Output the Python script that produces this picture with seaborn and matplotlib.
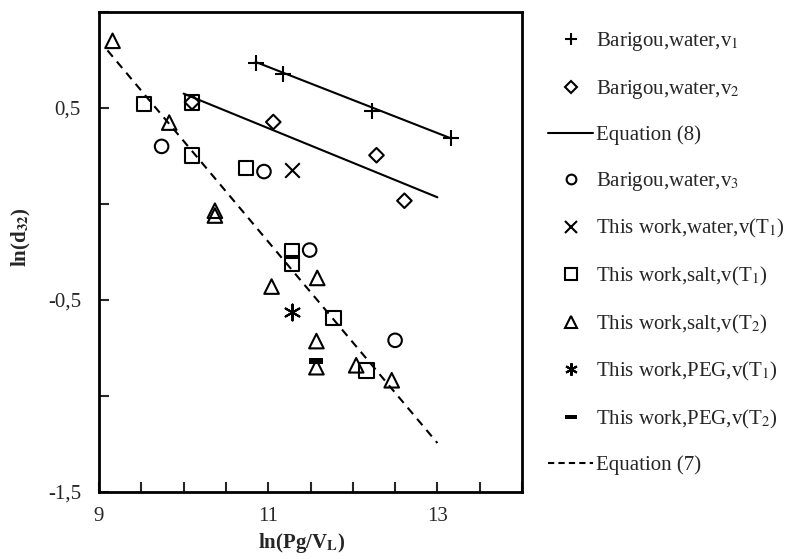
import matplotlib
matplotlib.use("Agg")
import matplotlib.pyplot as plt
import seaborn as sns
import numpy as np
import pandas as pd
from matplotlib.lines import Line2D
from matplotlib.ticker import MultipleLocator, FixedLocator, FixedFormatter

# ---- data ----
bar_v1_x = [10.86, 11.17, 12.23, 13.16]
bar_v1_y = [0.735, 0.675, 0.484, 0.342]
bar_v2_x = [10.10, 11.06, 12.28, 12.61]
bar_v2_y = [0.53, 0.427, 0.254, 0.017]
bar_v3_x = [9.74, 10.95, 11.49, 12.50]
bar_v3_y = [0.30, 0.169, -0.24, -0.71]
water_T1_x = [11.28]
water_T1_y = [0.176]
salt_T1_x = [9.53, 10.10, 10.10, 10.74, 11.28, 11.28, 11.77, 12.16]
salt_T1_y = [0.52, 0.53, 0.254, 0.187, -0.245, -0.31, -0.593, -0.866]
salt_T2_x = [9.16, 9.83, 10.37, 10.37, 11.04, 11.58, 11.57, 11.57, 12.04, 12.46]
salt_T2_y = [0.85, 0.424, -0.035, -0.06, -0.43, -0.385, -0.714, -0.85, -0.84, -0.918]
peg_T1_x = [11.28]
peg_T1_y = [-0.563]
peg_T2_x = [11.57]
peg_T2_y = [-0.82]
eq8a_x = [10.0, 13.0]
eq8a_y = [0.575, 0.035]
eq8b_x = [10.85, 13.16]
eq8b_y = [0.74, 0.342]
eq7_x = [9.1, 13.0]
eq7_y = [0.80, -1.245]

labels = [r"Barigou,water,v$_1$", r"Barigou,water,v$_2$", "Equation (8)",
          r"Barigou,water,v$_3$", r"This work,water,v(T$_1$)",
          r"This work,salt,v(T$_1$)", r"This work,salt,v(T$_2$)",
          r"This work,PEG,v(T$_1$)", r"This work,PEG,v(T$_2$)", "Equation (7)"]
xticks = [9, 11, 13]
yticks = [-1.5, -0.5, 0.5]
yticklabels = ["-1,5", "-0,5", "0,5"]

sns.set_style("ticks")
plt.rcParams["font.family"] = ["Liberation Serif", "DejaVu Serif"]
plt.rcParams["mathtext.fontset"] = "stix"

FS = 15

fig = plt.figure(figsize=(7.95, 5.59), dpi=100)
ax = fig.add_axes([99/795, 1-492/559, (522-99)/795, (492-12)/559])

bar_marker = [(-1, -0.4), (1, -0.4), (1, 0.4), (-1, 0.4), (-1, -0.4)]

lw = 1.5
sns.lineplot(x=eq8a_x, y=eq8a_y, ax=ax, color="black", lw=lw, estimator=None)
sns.lineplot(x=eq8b_x, y=eq8b_y, ax=ax, color="black", lw=lw, estimator=None)
sns.lineplot(x=eq7_x, y=eq7_y, ax=ax, color="black", lw=lw, estimator=None, linestyle=(0, (4, 3)))

def sc(x, y, marker, s, lwm=1.5):
    if marker in ("+", "x"):
        sns.scatterplot(x=x, y=y, ax=ax, marker=marker, s=s, color="black", linewidth=lwm, zorder=3)
    else:
        sns.scatterplot(x=x, y=y, ax=ax, marker=marker, s=s, facecolor="none", edgecolor="black", linewidth=lwm, zorder=3)

sc(bar_v1_x, bar_v1_y, "+", 130)
sc(bar_v2_x, bar_v2_y, "D", 55)
sc(bar_v3_x, bar_v3_y, "o", 95)
sc(water_T1_x, water_T1_y, "x", 110)
sc(salt_T1_x, salt_T1_y, "s", 110)
sc(salt_T2_x, salt_T2_y, "^", 110)
sns.scatterplot(x=peg_T1_x, y=peg_T1_y, ax=ax, marker=(6, 2, 0), s=130, color="black", linewidth=1.5, zorder=3)
sns.scatterplot(x=peg_T2_x, y=peg_T2_y, ax=ax, marker=bar_marker, s=110, color="black", linewidth=0, zorder=3)

ax.set_xlim(9, 14)
ax.set_ylim(-1.5, 1.0)
ax.xaxis.set_major_locator(FixedLocator(xticks))
ax.xaxis.set_minor_locator(MultipleLocator(0.5))
ax.yaxis.set_major_locator(FixedLocator(yticks))
ax.yaxis.set_major_formatter(FixedFormatter(yticklabels))
ax.yaxis.set_minor_locator(MultipleLocator(0.5))
ax.tick_params(axis="both", which="both", direction="in", length=7, width=1.5, labelsize=FS)
ax.tick_params(axis="x", which="major", pad=11)
ax.tick_params(axis="y", which="major", pad=13)
for sp in ax.spines.values():
    sp.set_linewidth(2)
    sp.set_color("black")
ax.set_xlabel(r"ln(Pg/V$_\mathbf{L}$)", fontsize=FS, fontweight="bold")
ax.set_ylabel(r"ln(d$_\mathbf{32}$)", fontsize=FS, fontweight="bold")
ax.xaxis.set_label_coords(0.48, -0.082)
ax.yaxis.set_label_coords(-0.155, 0.53)

handles = [
    Line2D([], [], marker="+", color="black", ls="none", markersize=9, mew=1.5),
    Line2D([], [], marker="D", color="black", mfc="none", ls="none", markersize=6, mew=1.5),
    Line2D([], [], color="black", lw=lw),
    Line2D([], [], marker="o", color="black", mfc="none", ls="none", markersize=7, mew=1.5),
    Line2D([], [], marker="x", color="black", ls="none", markersize=8, mew=1.5),
    Line2D([], [], marker="s", color="black", mfc="none", ls="none", markersize=8, mew=1.5),
    Line2D([], [], marker="^", color="black", mfc="none", ls="none", markersize=8, mew=1.5),
    Line2D([], [], marker=(6, 2, 0), color="black", ls="none", markersize=9, mew=1.5),
    Line2D([], [], marker=bar_marker, color="black", ls="none", markersize=8, mew=0),
    Line2D([], [], color="black", lw=lw, ls=(0, (3, 2))),
]
fig.legend(handles, labels, loc="upper left", bbox_to_anchor=(540/795, 1-22/559),
           frameon=False, fontsize=FS, labelspacing=1.18, handlelength=2.15,
           handletextpad=0.15, borderaxespad=0)

fig.savefig("out.png", dpi=100)
